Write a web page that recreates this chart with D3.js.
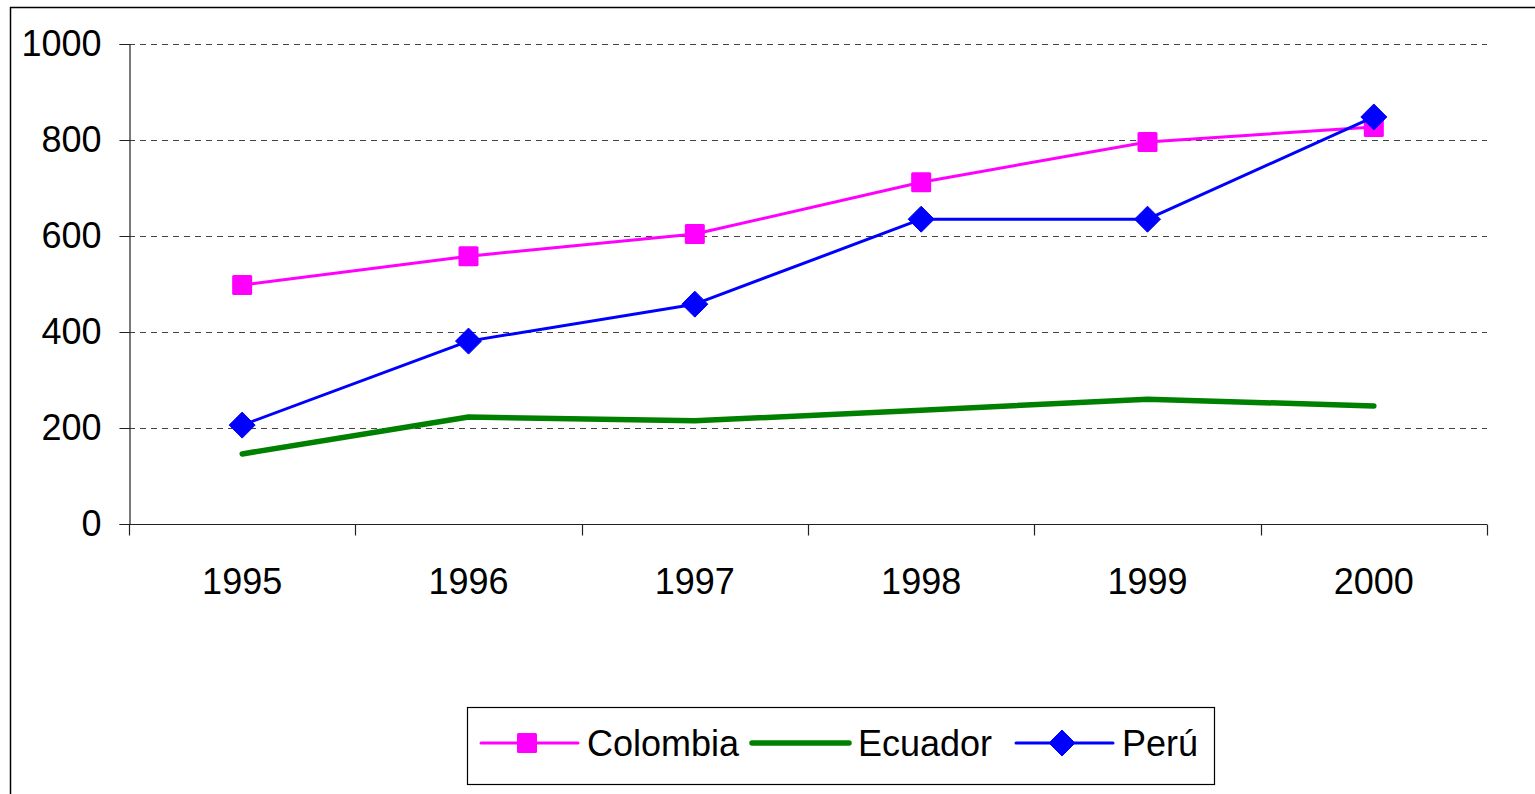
<!DOCTYPE html>
<html>
<head>
<meta charset="utf-8">
<script src="https://cdn.jsdelivr.net/npm/d3@7"></script>
<style>
  body { margin: 0; background: #fff; }
  svg { display: block; font-family: Arial, 'Liberation Sans', sans-serif; }
</style>
</head>
<body>
<svg id="chart" width="1535" height="794"></svg>
<script>
// Data
const years = ['1995', '1996', '1997', '1998', '1999', '2000']
const colombia = [498, 558, 604, 712, 796, 827]
const ecuador = [146, 223, 215, 237, 260, 246]
const peru = [206, 381, 458, 635, 635, 848]
const yTicks = [0, 200, 400, 600, 800, 1000]

const series = [
  { name: 'Colombia', values: colombia, color: '#ff00ff', width: 3, marker: 'square' },
  { name: 'Ecuador', values: ecuador, color: '#008000', width: 5.5, marker: null },
  { name: 'Perú', values: peru, color: '#0000ff', width: 3, marker: 'diamond' }
]

const svg = d3.select('#chart')
const plot = { left: 129, right: 1487, top: 44, bottom: 524 }

// Outer chart border
svg.append('rect')
  .attr('x', 10.5).attr('y', 7.5)
  .attr('width', 1540).attr('height', 800)
  .attr('fill', 'none').attr('stroke', '#000').attr('stroke-width', 1.5)

const x = d3.scaleBand()
  .domain(years)
  .range([plot.left, plot.right])

const y = d3.scaleLinear()
  .domain([0, 1000])
  .range([plot.bottom, plot.top])

// Gridlines
svg.append('g')
  .selectAll('line')
  .data(yTicks.filter(d => d > 0))
  .join('line')
  .attr('x1', plot.left).attr('x2', plot.right)
  .attr('y1', d => y(d) + 0.5).attr('y2', d => y(d) + 0.5)
  .attr('stroke', '#444').attr('stroke-width', 1.2)
  .attr('stroke-dasharray', '6,5')

// Y axis
const yAxis = svg.append('g')
  .attr('transform', `translate(${plot.left + 0.5},0)`)
  .call(d3.axisLeft(y).tickValues(yTicks).tickSize(10).tickPadding(18).tickFormat(d3.format('d')))
yAxis.select('.domain').attr('stroke', '#222').attr('stroke-width', 1.2)
yAxis.selectAll('.tick line').attr('stroke', '#222')
yAxis.selectAll('text').attr('font-size', 36).attr('fill', '#000')
  .attr('font-family', "Arial, 'Liberation Sans', sans-serif")

// X axis with ticks at the category boundaries
const xAxis = svg.append('g')
  .attr('transform', `translate(0,${plot.bottom + 0.5})`)
xAxis.append('line')
  .attr('x1', plot.left).attr('x2', plot.right)
  .attr('stroke', '#222').attr('stroke-width', 1.2)
const bounds = years.map(d => x(d)).concat([plot.right])
xAxis.selectAll('.xtick')
  .data(bounds)
  .join('line')
  .attr('class', 'xtick')
  .attr('x1', d => Math.round(d) + 0.5).attr('x2', d => Math.round(d) + 0.5)
  .attr('y1', 0).attr('y2', 11)
  .attr('stroke', '#222').attr('stroke-width', 1.2)
xAxis.selectAll('.xlabel')
  .data(years)
  .join('text')
  .attr('class', 'xlabel')
  .attr('x', d => x(d) + x.bandwidth() / 2)
  .attr('y', 69)
  .attr('text-anchor', 'middle')
  .attr('font-size', 36)
  .text(d => d)

// Lines
const line = d3.line()
  .x((d, i) => x(years[i]) + x.bandwidth() / 2)
  .y(d => y(d))

function drawMarker (g, type, cx, cy, color) {
  if (type === 'square') {
    g.append('rect')
      .attr('x', cx - 10).attr('y', cy - 10)
      .attr('width', 20).attr('height', 20)
      .attr('rx', 1.5)
      .attr('fill', color)
  } else if (type === 'diamond') {
    g.append('path')
      .attr('d', `M${cx},${cy - 13}L${cx + 13},${cy}L${cx},${cy + 13}L${cx - 13},${cy}Z`)
      .attr('fill', color)
      .attr('stroke', color).attr('stroke-width', 1).attr('stroke-linejoin', 'round')
  }
}

series.forEach(s => {
  const g = svg.append('g')
  g.append('path')
    .datum(s.values)
    .attr('d', line)
    .attr('fill', 'none')
    .attr('stroke', s.color)
    .attr('stroke-width', s.width)
    .attr('stroke-linecap', 'round')
    .attr('stroke-linejoin', 'round')
  if (s.marker) {
    s.values.forEach((v, i) => {
      drawMarker(g, s.marker, x(years[i]) + x.bandwidth() / 2, y(v), s.color)
    })
  }
})

// Legend
const legend = svg.append('g')
legend.append('rect')
  .attr('x', 467.5).attr('y', 707.5)
  .attr('width', 747).attr('height', 77)
  .attr('fill', '#fff').attr('stroke', '#000').attr('stroke-width', 1.2)

const legendX = [481, 752, 1016]
const legendY = 743
series.forEach((s, i) => {
  const lx = legendX[i]
  legend.append('line')
    .attr('x1', lx).attr('x2', lx + 97)
    .attr('y1', legendY).attr('y2', legendY)
    .attr('stroke', s.color).attr('stroke-width', s.width)
    .attr('stroke-linecap', 'round')
  if (s.marker) drawMarker(legend, s.marker, lx + 46, legendY, s.color)
  legend.append('text')
    .attr('x', lx + 106)
    .attr('y', legendY)
    .attr('dy', '0.35em')
    .attr('font-size', 36)
    .text(s.name)
})
</script>
</body>
</html>
